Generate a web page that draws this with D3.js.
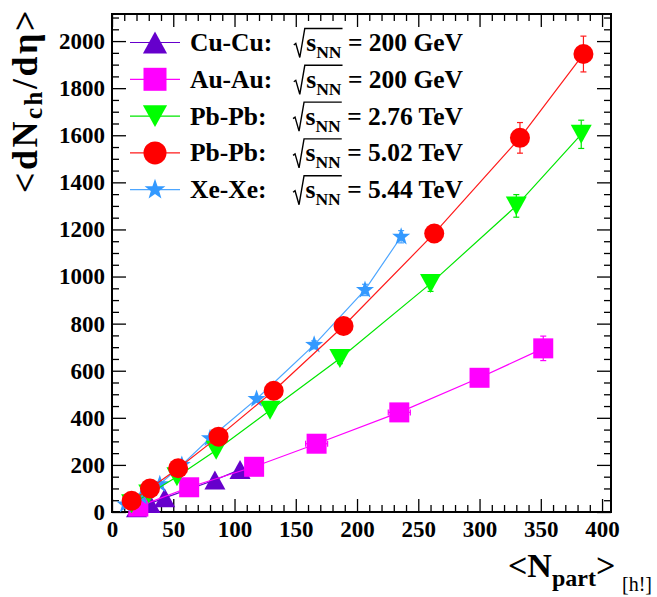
<!DOCTYPE html>
<html><head><meta charset="utf-8">
<script src="https://cdn.jsdelivr.net/npm/d3@7"></script>
<style>
body{margin:0;background:#fff}
svg{display:block}
</style>
</head><body><svg id="c" width="657" height="597"></svg>
<script>
// ---------- data ----------
const cuNpart   = [104.5, 84, 43, 31, 20];
const cuDndeta  = [180, 136, 60, 36, 18];
const cuErr     = [8, 6, 4, 3, 2];

const auNpart   = [352, 300, 234.5, 167, 116, 63, 21.5];
const auDndeta  = [695, 570, 423, 290, 192, 105, 23];
const auErr     = [52, 30, 22, 16, 11, 8, 4];
const auXErr    = [3, 3, 9, 9, 4, 3, 2];

const pb276Npart  = [383, 330, 260, 186, 129, 85, 53, 30, 16];
const pb276Dndeta = [1604, 1300, 970, 652, 432, 262, 150, 76, 35];
const pb276Err    = [60, 48, 33, 22, 15, 9, 6, 4, 2];

const pb502Npart  = [384.8, 333, 263, 189, 132, 87, 54, 31, 16];
const pb502Dndeta = [1945, 1589, 1183, 790, 515, 320, 186, 100, 48];
const pb502Err    = [76, 65, 30, 20, 15, 12, 8, 6, 3];

const xeNpart   = [236, 206.5, 165, 118, 80, 57, 39, 24, 11];
const xeDndeta  = [1169, 943, 710, 480, 313, 200, 118, 65, 32];
const xeErr     = [26, 24, 17, 11, 8, 5, 3, 2, 1];

const legendLabels   = ["Cu-Cu:", "Au-Au:", "Pb-Pb:", "Pb-Pb:", "Xe-Xe:"];
const legendEnergies = ["200 GeV", "200 GeV", "2.76 TeV", "5.02 TeV", "5.44 TeV"];

const xMajor = [0, 50, 100, 150, 200, 250, 300, 350, 400];
const yMajor = [0, 200, 400, 600, 800, 1000, 1200, 1400, 1600, 1800, 2000];
const xMinor = d3.range(0, 401, 10).filter(v => v % 50 !== 0);
const yMinor = d3.range(0, 2101, 50).filter(v => v % 200 !== 0);

// ---------- layout ----------
const L = 112, R = 611, T = 14, B = 512;
const x = d3.scaleLinear().domain([0, 407.3]).range([L, R]);
const y = d3.scaleLinear().domain([0, 2115]).range([B, T]);
const svg = d3.select("#c");
const FONT = '"Liberation Serif"';

function serif(sel, size, weight) {
  return sel.style("font-family", FONT).style("font-weight", weight || "bold")
    .style("font-size", size + "px").attr("fill", "#000");
}

function styleAxis(g) {
  g.attr("font-family", null).attr("font-size", null);
  g.select(".domain").remove();
  g.selectAll("line").attr("stroke", "#000").attr("stroke-width", 1.3);
  serif(g.selectAll("text"), 23);
}

// major ticks + labels
svg.append("g").attr("transform", `translate(0,${B})`)
  .call(d3.axisBottom(x).tickValues(xMajor).tickSize(-13).tickPadding(9).tickFormat(d3.format("d")))
  .call(styleAxis);
svg.append("g").attr("transform", `translate(0,${T})`)
  .call(d3.axisTop(x).tickValues(xMajor).tickSize(-13).tickFormat(""))
  .call(styleAxis);
svg.append("g").attr("transform", `translate(${L},0)`)
  .call(d3.axisLeft(y).tickValues(yMajor).tickSize(-14).tickPadding(7).tickFormat(d3.format("d")))
  .call(styleAxis);
svg.append("g").attr("transform", `translate(${R},0)`)
  .call(d3.axisRight(y).tickValues(yMajor).tickSize(-14).tickFormat(""))
  .call(styleAxis);
// minor ticks
svg.append("g").attr("transform", `translate(0,${B})`)
  .call(d3.axisBottom(x).tickValues(xMinor).tickSize(-7).tickFormat("")).call(styleAxis);
svg.append("g").attr("transform", `translate(0,${T})`)
  .call(d3.axisTop(x).tickValues(xMinor).tickSize(-7).tickFormat("")).call(styleAxis);
svg.append("g").attr("transform", `translate(${L},0)`)
  .call(d3.axisLeft(y).tickValues(yMinor).tickSize(-7).tickFormat("")).call(styleAxis);
svg.append("g").attr("transform", `translate(${R},0)`)
  .call(d3.axisRight(y).tickValues(yMinor).tickSize(-7).tickFormat("")).call(styleAxis);

// frame
svg.append("rect").attr("x", L).attr("y", T).attr("width", R - L).attr("height", B - T)
  .attr("fill", "none").attr("stroke", "#000").attr("stroke-width", 2);

// ---------- markers ----------
function drawMarker(g, shape, cx, cy, s, color) {
  if (shape === "circle") {
    g.append("circle").attr("cx", cx).attr("cy", cy).attr("r", 10 * s).attr("fill", color);
  } else if (shape === "square") {
    g.append("rect").attr("x", cx - 10 * s).attr("y", cy - 10 * s)
      .attr("width", 20 * s).attr("height", 20 * s).attr("fill", color);
  } else if (shape === "tu") {
    g.append("path").attr("d", `M${cx},${cy - 9.5 * s}L${cx + 10.5 * s},${cy + 9.5 * s}L${cx - 10.5 * s},${cy + 9.5 * s}Z`).attr("fill", color);
  } else if (shape === "td") {
    g.append("path").attr("d", `M${cx - 10.5 * s},${cy - 9.5 * s}L${cx + 10.5 * s},${cy - 9.5 * s}L${cx},${cy + 9.5 * s}Z`).attr("fill", color);
  } else if (shape === "star") {
    const pts = [];
    for (let i = 0; i < 10; i++) {
      const r = (i % 2 === 0 ? 9.5 : 3.8) * s;
      const a = -Math.PI / 2 + i * Math.PI / 5;
      pts.push([cx + r * Math.cos(a), cy + r * Math.sin(a)]);
    }
    g.append("path").attr("d", "M" + pts.map(p => p.join(",")).join("L") + "Z").attr("fill", color);
  }
}

const series = {
  cu:    {xs: cuNpart, ys: cuDndeta, ey: cuErr, ex: null, color: "#6600cc", line: "#6600cc", shape: "tu"},
  au:    {xs: auNpart, ys: auDndeta, ey: auErr, ex: auXErr, color: "#ff00ff", line: "#ff00ff", shape: "square"},
  pb276: {xs: pb276Npart, ys: pb276Dndeta, ey: pb276Err, ex: null, color: "#00ff00", line: "#00e600", shape: "td"},
  pb502: {xs: pb502Npart, ys: pb502Dndeta, ey: pb502Err, ex: null, color: "#ff0000", line: "#ff1a1a", shape: "circle"},
  xe:    {xs: xeNpart, ys: xeDndeta, ey: xeErr, ex: null, color: "#3399ff", line: "#4da6ff", shape: "star"}
};

const lineGen = d3.line().x(d => x(d[0])).y(d => y(d[1]));
["cu", "au", "xe", "pb276", "pb502"].forEach(k => {
  const s = series[k];
  const g = svg.append("g");
  const pts = s.xs.map((v, i) => [v, s.ys[i]]);
  g.append("path").attr("d", lineGen(pts)).attr("fill", "none")
    .attr("stroke", s.line).attr("stroke-width", 1.2);
  pts.forEach((p, i) => {
    const px = x(p[0]), py = y(p[1]);
    const y1 = y(p[1] - s.ey[i]), y2 = y(p[1] + s.ey[i]);
    g.append("line").attr("x1", px).attr("x2", px).attr("y1", y1).attr("y2", y2)
      .attr("stroke", s.line).attr("stroke-width", 1.2);
    [y1, y2].forEach(yy => g.append("line").attr("x1", px - 3).attr("x2", px + 3)
      .attr("y1", yy).attr("y2", yy).attr("stroke", s.line).attr("stroke-width", 1.2));
    if (s.ex) {
      const x1 = x(p[0] - s.ex[i]), x2 = x(p[0] + s.ex[i]);
      g.append("line").attr("x1", x1).attr("x2", x2).attr("y1", py).attr("y2", py)
        .attr("stroke", s.line).attr("stroke-width", 1.2);
      [x1, x2].forEach(xx => g.append("line").attr("x1", xx).attr("x2", xx)
        .attr("y1", py - 3).attr("y2", py + 3).attr("stroke", s.line).attr("stroke-width", 1.2));
    }
  });
  pts.forEach(p => drawMarker(g, s.shape, x(p[0]), y(p[1]), 1, s.color));
});

// ---------- legend ----------
const legOrder = ["cu", "au", "pb276", "pb502", "xe"];
legOrder.forEach((k, i) => {
  const s = series[k];
  const cy = 42.5 + i * 36.8;
  const base = cy + 8.5;
  const g = svg.append("g");
  g.append("line").attr("x1", 130).attr("x2", 180).attr("y1", cy).attr("y2", cy)
    .attr("stroke", s.line).attr("stroke-width", 1.2);
  drawMarker(g, s.shape, 155, cy, 1.15, s.color);
  serif(g.append("text").attr("x", 190).attr("y", base), 25.5).text(legendLabels[i]);
  const t = serif(g.append("text").attr("x", 463).attr("y", base), 25.5)
    .attr("text-anchor", "end");
  t.append("tspan").text("s");
  t.append("tspan").style("font-size", "17.5px").attr("dy", 7).text("NN");
  t.append("tspan").attr("dy", -7).text("\u00a0= " + legendEnergies[i]);
  const n = t.node();
  const s0 = n.getStartPositionOfChar(0).x;
  const e0 = n.getEndPositionOfChar(2).x;
  g.append("path")
    .attr("d", `M${s0 - 12.5},${base - 6}L${s0 - 10.5},${base - 7.5}L${s0 - 6.5},${base + 6.5}L${s0 - 1.5},${base - 22.5}L${e0 + 1},${base - 22.5}`)
    .attr("fill", "none").attr("stroke", "#000").attr("stroke-width", 1.4);
});

// ---------- axis titles ----------
const xt = serif(svg.append("text").attr("x", 508).attr("y", 577), 34);
xt.append("tspan").text("<N");
xt.append("tspan").style("font-size", "24px").attr("dy", 9).text("part");
xt.append("tspan").attr("dy", -9).text(">");

const yt = serif(svg.append("text").attr("transform", "translate(37,8) rotate(-90)")
  .attr("x", 0).attr("y", 0), 36).attr("text-anchor", "end").style("letter-spacing", "2.5px");
yt.append("tspan").text("<dN");
yt.append("tspan").style("font-size", "25px").attr("dy", 5).text("ch");
yt.append("tspan").attr("dy", -5).text("/d\u03b7>");

serif(svg.append("text").attr("x", 622).attr("y", 591), 20, "normal").text("[h!]");
</script>
</body></html>
